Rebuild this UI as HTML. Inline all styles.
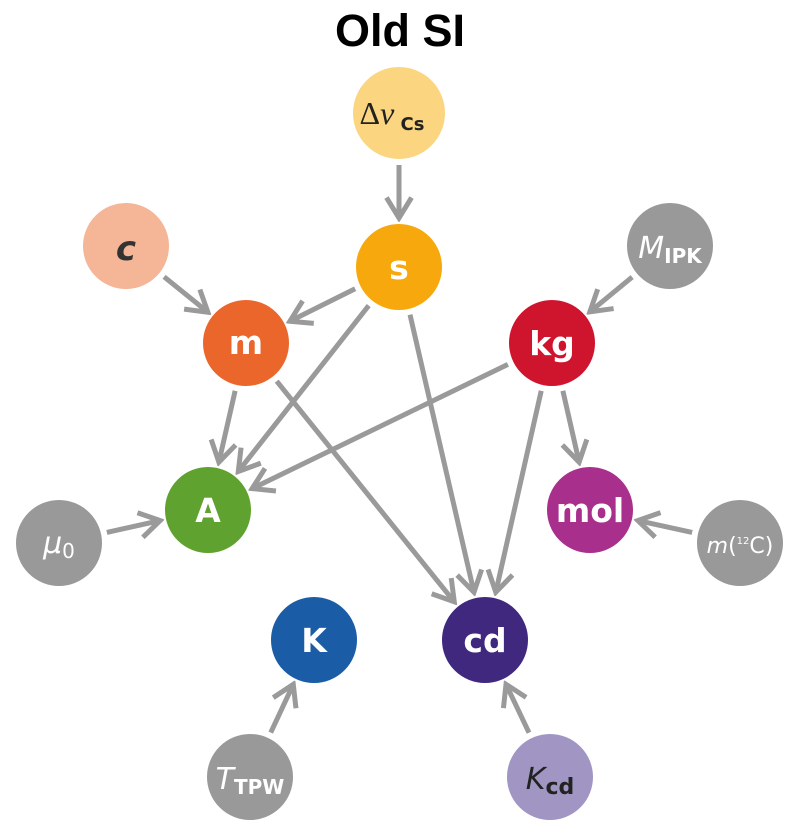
<!DOCTYPE html>
<html><head><meta charset="utf-8"><style>
html,body{margin:0;padding:0;background:#fff;width:800px;height:838px;overflow:hidden}
text{font-family:"DejaVu Sans","Liberation Sans",sans-serif}
</style></head><body>
<svg id="s" width="800" height="838" viewBox="0 0 800 838" xmlns="http://www.w3.org/2000/svg">
<text x="400" y="46" text-anchor="middle" font-weight="bold" font-size="45" fill="#000" style="font-family:'Liberation Sans',sans-serif">Old SI</text>
<g id="edges"></g>
<g stroke="#fff" stroke-width="2">
<circle cx="399" cy="113" r="47" fill="#fbd580"/>
<circle cx="399" cy="267" r="44" fill="#f6a80c"/>
<circle cx="126" cy="246" r="44" fill="#f5b597"/>
<circle cx="670" cy="246" r="44" fill="#999"/>
<circle cx="246" cy="343" r="44" fill="#eb662a"/>
<circle cx="552" cy="343" r="44" fill="#cf142e"/>
<circle cx="208" cy="510" r="44" fill="#5fa22f"/>
<circle cx="590" cy="510" r="44" fill="#a8308c"/>
<circle cx="59" cy="543" r="44" fill="#999"/>
<circle cx="740" cy="543" r="44" fill="#999"/>
<circle cx="314" cy="640" r="44" fill="#1a5ca6"/>
<circle cx="485" cy="640" r="44" fill="#40287f"/>
<circle cx="250" cy="777" r="44" fill="#999"/>
<circle cx="550" cy="777" r="44" fill="#a195c3"/>
</g>
<g font-weight="bold" font-size="33" fill="#fff" text-anchor="middle">
<text x="399" y="279">s</text>
<text x="246" y="354">m</text>
<text x="552" y="355">kg</text>
<text x="208" y="522">A</text>
<text x="590" y="522">mol</text>
<text x="314" y="652">K</text>
<text x="485" y="652">cd</text>
</g>
<text x="392" y="124" text-anchor="middle" font-size="32" fill="#222" style="font-family:'Liberation Serif',serif">Δ<tspan font-style="italic">ν</tspan><tspan font-size="18" font-weight="bold" dy="6" style="font-family:'DejaVu Sans',sans-serif"> Cs</tspan></text>
<text x="126" y="260" text-anchor="middle" font-size="34" font-style="italic" font-weight="bold" fill="#333">c</text>
<text x="670" y="258" text-anchor="middle" font-size="30" font-style="italic" fill="#fff">M<tspan font-size="20" font-style="normal" font-weight="bold" dy="5">IPK</tspan></text>
<text x="59" y="553" text-anchor="middle" font-size="30" font-style="italic" fill="#fff">μ<tspan font-size="20" font-style="normal" dy="5">0</tspan></text>
<text x="740" y="553" text-anchor="middle" font-size="22" fill="#fff"><tspan font-style="italic">m</tspan>(<tspan font-size="10" dy="-9">12</tspan><tspan dy="9">C)</tspan></text>
<text x="250" y="789" text-anchor="middle" font-size="30" font-style="italic" fill="#fff">T<tspan font-size="20" font-style="normal" font-weight="bold" dy="5">TPW</tspan></text>
<text x="550" y="789" text-anchor="middle" font-size="30" font-style="italic" fill="#222">K<tspan font-size="22" font-style="normal" font-weight="bold" dy="5">cd</tspan></text>
</svg>
<script>
var N={d:[399,113,47],s:[399,267,44],c:[126,246,44],M:[670,246,44],m:[246,343,44],kg:[552,343,44],A:[208,510,44],mol:[590,510,44],mu:[59,543,44],mc:[740,543,44],K:[314,640,44],cd:[485,640,44],T:[250,777,44],Kc:[550,777,44]};
var E=[["d","s"],["c","m"],["s","m"],["s","A"],["s","cd"],["M","kg"],["kg","A"],["kg","cd"],["kg","mol"],["m","A"],["m","cd"],["mu","A"],["mc","mol"],["T","K"],["Kc","cd"]];
var g=document.getElementById("edges"),h="";
E.forEach(function(e){var a=N[e[0]],b=N[e[1]],dx=b[0]-a[0],dy=b[1]-a[1],L=Math.hypot(dx,dy),ux=dx/L,uy=dy/L;
var x1=a[0]+ux*(a[2]+5),y1=a[1]+uy*(a[2]+5),x2=b[0]-ux*(b[2]+5),y2=b[1]-uy*(b[2]+5);
h+='<line x1="'+x1+'" y1="'+y1+'" x2="'+x2+'" y2="'+y2+'"/>';
var al=24,ca=Math.cos(0.55),sa=Math.sin(0.55);
var p1x=x2-al*(ux*ca-uy*sa),p1y=y2-al*(uy*ca+ux*sa),p2x=x2-al*(ux*ca+uy*sa),p2y=y2-al*(uy*ca-ux*sa);
h+='<polyline fill="none" points="'+p1x+','+p1y+' '+x2+','+y2+' '+p2x+','+p2y+'"/>';});
g.setAttribute("stroke","#9a9a9a");g.setAttribute("stroke-width","5");
g.innerHTML=h;
</script>
</body></html>
